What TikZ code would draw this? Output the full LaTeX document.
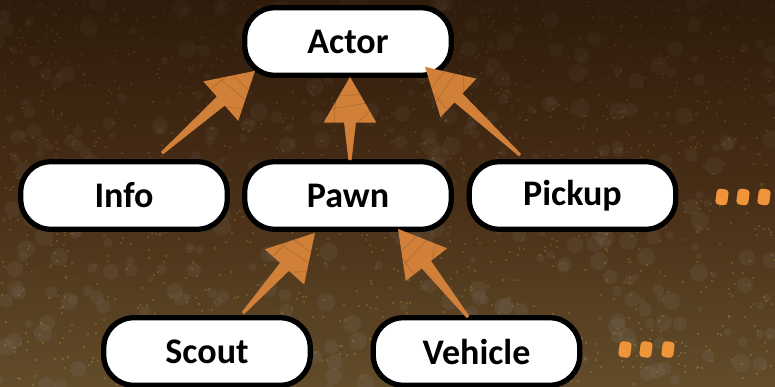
\documentclass[tikz,border=0pt]{standalone}
\usepackage{fontspec}
\setmainfont{Carlito}
\usetikzlibrary{calc}
\definecolor{barkdark}{RGB}{46,27,11}
\definecolor{barkmid}{RGB}{72,46,22}
\definecolor{barklight}{RGB}{98,76,42}
\definecolor{spotgrey}{RGB}{125,115,102}
\definecolor{speck}{RGB}{172,148,52}
\definecolor{arroworange}{RGB}{208,128,56}
\definecolor{arrowdark}{RGB}{150,85,30}
\definecolor{dotorange}{RGB}{240,148,58}

% tail, tip
\newcommand{\sketcharrow}[2]{%
  \coordinate (skbase) at ($(#2)!26pt!(#1)$);
  \coordinate (skwl) at ($(skbase)!15pt!-90:(#1)$);
  \coordinate (skwr) at ($(skbase)!15pt!90:(#1)$);
  \fill[arroworange] ($(#1)!0.9pt!90:(#2)$) -- ($(skbase)!3.4pt!-90:(#1)$) -- (skwl) -- (#2)
    -- (skwr) -- ($(skbase)!3.4pt!90:(#1)$) -- ($(#1)!0.9pt!-90:(#2)$) -- cycle;
  \draw[arrowdark, line width=0.35pt, opacity=0.5]
    ($(skwl)!.30!(#2)$) -- ($(skwr)!.42!(#2)$)
    ($(skwl)!.58!(#2)$) -- ($(skwr)!.62!(#2)$)
    ($(skwl)!.2!(skwr)$) -- ($(skwl)!.45!(#2)$)
    ($(skbase)!.3!(skwr)$) -- ($(skwr)!.25!(#2)$);
}

\begin{document}
\begin{tikzpicture}[x=0.02cm, y=0.02cm,
    classbox/.style={draw=black, line width=3pt, fill=white, rounded corners=17pt,
      minimum width=4.13cm, minimum height=1.35cm, inner sep=0pt,
      font=\bfseries\fontsize{20.5}{24}\selectfont}]
  \useasboundingbox (0,0) rectangle (775,386);
  % bark background
  \shade[top color=barkdark, bottom color=barklight, middle color=barkmid] (0,0) rectangle (775,386);
  \pgfmathsetseed{7}
  \foreach \i in {1,...,420}{
    \pgfmathsetmacro{\px}{random(0,775)}
    \pgfmathsetmacro{\py}{random(0,386)}
    \pgfmathsetmacro{\pr}{random(3,9)}
    \pgfmathsetmacro{\po}{0.06+0.16*(1-\py/386)}
    \fill[spotgrey, opacity=\po] (\px,\py) circle[radius=\pr];
  }
  \foreach \i in {1,...,1300}{
    \pgfmathsetmacro{\px}{random(0,775)}
    \pgfmathsetmacro{\py}{random(0,386)}
    \pgfmathsetmacro{\po}{0.12+0.38*(1-\py/386)}
    \fill[speck, opacity=\po] (\px,\py) circle[radius=1.2];
  }

  % classes
  \node[classbox] (actor) at (348,344.5) {Actor};
  \node[classbox] (info) at (124,190.5) {Info};
  \node[classbox] (pawn) at (348,190.5) {Pawn};
  \node[classbox] (pickup) at (572.5,190.5) {Pickup};
  \node[classbox] (scout) at (207,34.5) {Scout};
  \node[classbox] (vehicle) at (476.5,34.5) {Vehicle};

  % arrow ends
  \coordinate (info-out) at ($(info.north)+(38,6)$);
  \coordinate (pawn-out) at ($(pawn.north)+(2,-1)$);
  \coordinate (pickup-out) at ($(pickup.north)+(-52.5,4)$);
  \coordinate (actor-in1) at ($(actor.south)+(-93,7)$);
  \coordinate (actor-in2) at ($(actor.south)+(2,1)$);
  \coordinate (actor-in3) at ($(actor.south)+(77,11)$);
  \coordinate (scout-out) at ($(scout.north)+(36,2)$);
  \coordinate (vehicle-out) at ($(vehicle.north)+(-8.5,-2)$);
  \coordinate (pawn-in1) at ($(pawn.south)+(-33,-1)$);
  \coordinate (pawn-in2) at ($(pawn.south)+(50,3)$);

  \sketcharrow{info-out}{actor-in1}
  \sketcharrow{pawn-out}{actor-in2}
  \sketcharrow{pickup-out}{actor-in3}
  \sketcharrow{scout-out}{pawn-in1}
  \sketcharrow{vehicle-out}{pawn-in2}

  % more subclasses
  \foreach \x in {722,743,764}
    \fill[dotorange, rotate around={-8:(\x,189)}, rounded corners=2pt] (\x-6,181) rectangle (\x+6,197);
  \foreach \x in {625,646,668}
    \fill[dotorange, rotate around={-8:(\x,36.5)}, rounded corners=2pt] (\x-6,28.5) rectangle (\x+6,44.5);
\end{tikzpicture}
\end{document}
